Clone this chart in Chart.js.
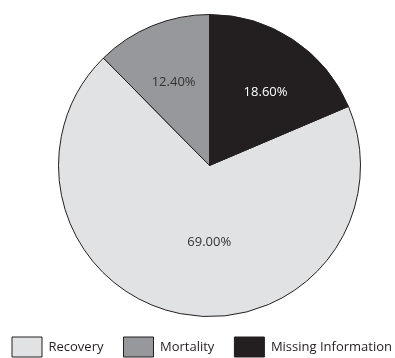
<!DOCTYPE html>
<html>
<head>
<meta charset="utf-8">
<script src="https://cdn.jsdelivr.net/npm/chart.js@4"></script>
<style>
  html, body { margin: 0; padding: 0; background: #fff; overflow: hidden; }
  /* canvas is a bit wider/taller than the page so the legend can sit flush left */
  #wrap { width: 435px; height: 368px; margin-left: -8px; }
</style>
</head>
<body>
<div id="wrap"><canvas id="outcomeChart"></canvas></div>
<script>
const categories = ['Recovery', 'Mortality', 'Missing Information'];
const shares = [69.0, 12.4, 18.6];
const sliceColors = ['#e1e2e4', '#97989b', '#231f20'];
const labelColors = ['#333333', '#333333', '#ffffff'];

// "Missing Information" starts at 12 o'clock, so turn the pie by its share
const total = shares.reduce((a, b) => a + b, 0);
const startAngle = shares[2] / total * 360;

// percentage text inside each slice (radius fraction + angle nudge in degrees)
const labelPlacement = [{ r: 0.51, nudge: -11 }, { r: 0.6, nudge: -1 }, { r: 0.61, nudge: 4 }];

const sliceLabels = {
    id: 'sliceLabels',
    afterDatasetsDraw(chart) {
        const ctx = chart.ctx;
        const arcs = chart.getDatasetMeta(0).data;
        ctx.save();
        ctx.font = '13px "Open Sans"';
        ctx.textAlign = 'center';
        ctx.textBaseline = 'middle';
        arcs.forEach((arc, i) => {
            const p = arc.getProps(['x', 'y', 'startAngle', 'endAngle', 'outerRadius'], true);
            const mid = (p.startAngle + p.endAngle) / 2 + labelPlacement[i].nudge * Math.PI / 180;
            const dist = p.outerRadius * labelPlacement[i].r;
            ctx.fillStyle = labelColors[i];
            ctx.fillText(shares[i].toFixed(2) + '%', p.x + Math.cos(mid) * dist, p.y + Math.sin(mid) * dist);
        });
        ctx.restore();
    }
};

new Chart(document.getElementById('outcomeChart'), {
    type: 'pie',
    data: {
        labels: categories,
        datasets: [{
            data: shares,
            backgroundColor: sliceColors,
            borderColor: '#231f20',
            borderWidth: 1
        }]
    },
    options: {
        responsive: true,
        maintainAspectRatio: false,
        animation: false,
        rotation: startAngle,
        layout: { padding: { top: 14, bottom: 1 } },
        plugins: {
            tooltip: { enabled: false },
            legend: {
                position: 'bottom',
                align: 'start',
                labels: {
                    boxWidth: 30,
                    boxHeight: 20,
                    padding: 20,
                    color: '#231f20',
                    font: { family: '"Open Sans"', size: 13 }
                }
            }
        }
    },
    plugins: [sliceLabels]
});
</script>
</body>
</html>
